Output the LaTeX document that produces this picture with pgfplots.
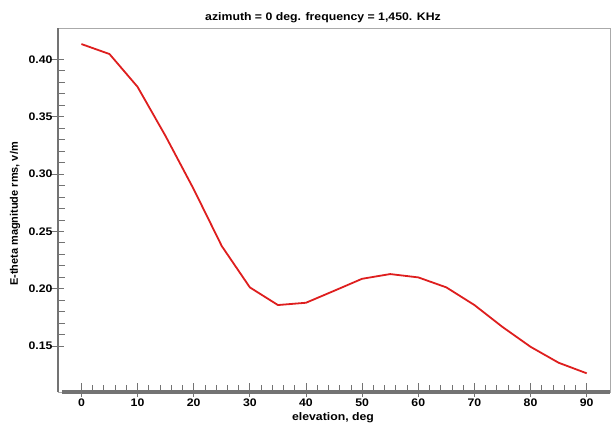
\documentclass[border=0pt]{standalone}
\usepackage{pgfplots}
\pgfplotsset{compat=1.18}
\usepackage{fontspec}
\setmainfont{Liberation Sans}
\newfontfamily\widesans[FakeStretch=1.12]{Liberation Sans}
\definecolor{curvered}{RGB}{222,30,30}
\definecolor{framegray}{RGB}{170,170,170}
\definecolor{spinegray}{RGB}{115,115,115}
\begin{document}
\begin{tikzpicture}[x=1bp,y=1bp]
\useasboundingbox (0,0) rectangle (612,428);
\begin{axis}[
  at={(58bp,36bp)}, anchor=south west,
  scale only axis, width=552bp, height=364bp,
  xmin=-4.17, xmax=94.15, ymin=0.11, ymax=0.4273,
  xtick={0,10,...,90}, ytick={0.15,0.20,0.25,0.30,0.35,0.40},
  minor x tick num=4, minor y tick num=4,
  xtick pos=bottom, ytick pos=left,
  tick align=inside,
  major tick length=14bp, minor tick length=7bp,
  every major x tick/.append style={yshift=-5bp},
  every major y tick/.append style={xshift=-8bp},
  tick style={draw=spinegray, line width=0.8bp},
  axis line style={draw=framegray, line width=0.7bp},
  /pgf/number format/assume math mode=true,
  yticklabel style={/pgf/number format/fixed, /pgf/number format/fixed zerofill,
    /pgf/number format/precision=2, xshift=-2bp},
  xticklabel style={yshift=-3bp},
  tick label style={font=\widesans\bfseries\fontsize{11}{13}\selectfont},
]
\addplot[curvered, line width=1.8bp] coordinates {
(0,0.4133) (5,0.4046) (10,0.376) (15,0.333) (20,0.2868) (25,0.2372)
(30,0.2012) (35,0.1858) (40,0.1878) (45,0.1982) (50,0.2087) (55,0.2128)
(60,0.2099) (65,0.2012) (70,0.1858) (75,0.1667) (80,0.1494) (85,0.1355)
(90,0.1263)};
\end{axis}
\draw[spinegray, line width=1.3bp] (58,36) -- (58,400);
\draw[spinegray, line width=3.2bp] (62,36) -- (610,36);
\node[font=\widesans\bfseries\fontsize{11}{13}\selectfont] at (323,410.4) {azimuth = 0 deg. frequency = 1,450. KHz};
\node[font=\widesans\bfseries\fontsize{11}{13}\selectfont] at (333,10.5) {elevation, deg};
\node[font=\bfseries\fontsize{11}{13}\selectfont, rotate=90] at (15,214) {E-theta magnitude rms, v/m};
\end{tikzpicture}
\end{document}
